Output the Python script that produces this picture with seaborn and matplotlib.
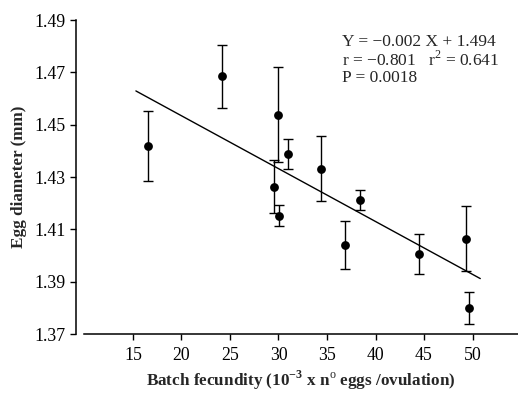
import matplotlib
matplotlib.use("Agg")
import matplotlib.pyplot as plt
import seaborn as sns
import numpy as np
import pandas as pd

fecundity = [16.5, 24.2, 29.9, 31.0, 34.4, 29.5, 30.05, 38.4, 36.9, 44.5, 49.3, 49.6]
egg_diam = [1.4419, 1.4685, 1.4538, 1.4388, 1.4332, 1.4263, 1.4152, 1.4213, 1.4040, 1.4006, 1.4062, 1.3801]
err_top = [1.4554, 1.4804, 1.4722, 1.4446, 1.4457, 1.4364, 1.4193, 1.4251, 1.4130, 1.4081, 1.4190, 1.3862]
err_bot = [1.4284, 1.4564, 1.4358, 1.4331, 1.4209, 1.4162, 1.4114, 1.4174, 1.3949, 1.3930, 1.3941, 1.3738]

slope = -0.00202
intercept = 1.4938
line_x = [15.3, 50.8]

xticks = [15, 20, 25, 30, 35, 40, 45, 50]
yticks = [1.37, 1.39, 1.41, 1.43, 1.45, 1.47, 1.49]

df = pd.DataFrame({"x": fecundity, "y": egg_diam})

sns.set_style("ticks")
plt.rcParams['font.family'] = ['Liberation Serif', 'DejaVu Serif']
plt.rcParams['mathtext.fontset'] = 'custom'
plt.rcParams['mathtext.rm'] = 'Liberation Serif'
plt.rcParams['mathtext.bf'] = 'Liberation Serif:bold'

fig = plt.figure(figsize=(5.18, 3.93), dpi=100)
ax = fig.add_axes([0.1631, 0.1501, 0.8369, 0.799])

yerr = [np.array(egg_diam) - np.array(err_bot), np.array(err_top) - np.array(egg_diam)]
ax.errorbar(fecundity, egg_diam, yerr=yerr, fmt='none', ecolor='black',
            elinewidth=1.0, capsize=3.5, capthick=1.0, zorder=2)
sns.scatterplot(data=df, x="x", y="y", ax=ax, color='black', s=40,
                edgecolor='black', linewidth=0, zorder=3)

lx = np.array(line_x)
ax.plot(lx, slope * lx + intercept, color='black', lw=1.0, zorder=1)

ax.set_xlim(10, 54.69)
ax.set_ylim(1.37, 1.49)
ax.set_xticks(xticks)
ax.set_yticks(yticks)
ax.set_yticklabels([f"{v:.2f}" for v in yticks])
ax.tick_params(axis='both', labelsize=12.8, direction='out', length=4, width=1, colors='black')
ax.tick_params(axis='x', pad=5)
for s in ['top', 'right']:
    ax.spines[s].set_visible(False)
ax.spines['left'].set_position(('outward', 6.1))
for s in ['left', 'bottom']:
    ax.spines[s].set_linewidth(1.1)
    ax.spines[s].set_color('black')

ax.set_xlabel(r"Batch fecundity (10$^{\mathbf{-3}}$ x n$^{\mathrm{o}}$ eggs /ovulation)",
              fontsize=12.3, fontweight='bold', labelpad=4)
ax.set_ylabel("Egg diameter (mm)", fontsize=12.3, fontweight='bold', labelpad=5)

ax.text(0.594, 0.957, "Y = \u22120.002 X + 1.494\nr = \u22120.801   r$^{2}$ = 0.641\nP = 0.0018",
        transform=ax.transAxes, fontsize=12.5, va='top', ha='left', linespacing=1.05)

fig.savefig("out.png", dpi=100)
